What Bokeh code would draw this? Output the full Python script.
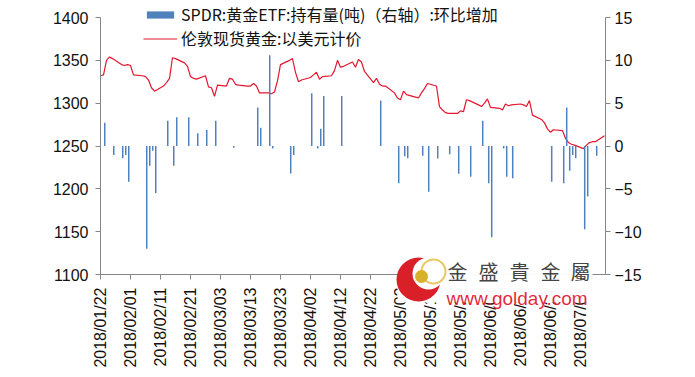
import numpy as np
import pandas as pd
from math import pi
from bokeh.plotting import figure
from bokeh.models import (Range1d, LinearAxis, FixedTicker, DatetimeTickFormatter,
                          Legend, LegendItem, GridBox)
from bokeh.core.properties import value
from bokeh.embed import file_html
from bokeh.resources import INLINE

# ---------------- data ----------------
price_dates = [
    "2018-01-22", "2018-01-23", "2018-01-24", "2018-01-25", "2018-01-26",
    "2018-01-29", "2018-01-30", "2018-01-31", "2018-02-01", "2018-02-02",
    "2018-02-05", "2018-02-06", "2018-02-07", "2018-02-08", "2018-02-09",
    "2018-02-12", "2018-02-13", "2018-02-14", "2018-02-15", "2018-02-16",
    "2018-02-19", "2018-02-20", "2018-02-21", "2018-02-22", "2018-02-23",
    "2018-02-26", "2018-02-27", "2018-02-28", "2018-03-01", "2018-03-02",
    "2018-03-05", "2018-03-06", "2018-03-07", "2018-03-08", "2018-03-09",
    "2018-03-12", "2018-03-13", "2018-03-14", "2018-03-15", "2018-03-16",
    "2018-03-19", "2018-03-20", "2018-03-21", "2018-03-22", "2018-03-23",
    "2018-03-26", "2018-03-27", "2018-03-28", "2018-03-29", "2018-03-30",
    "2018-04-02", "2018-04-03", "2018-04-04", "2018-04-05", "2018-04-06",
    "2018-04-09", "2018-04-10", "2018-04-11", "2018-04-12", "2018-04-13",
    "2018-04-16", "2018-04-17", "2018-04-18", "2018-04-19", "2018-04-20",
    "2018-04-23", "2018-04-24", "2018-04-25", "2018-04-26", "2018-04-27",
    "2018-04-30", "2018-05-01", "2018-05-02", "2018-05-03", "2018-05-04",
    "2018-05-07", "2018-05-08", "2018-05-09", "2018-05-10", "2018-05-11",
    "2018-05-14", "2018-05-15", "2018-05-16", "2018-05-17", "2018-05-18",
    "2018-05-21", "2018-05-22", "2018-05-23", "2018-05-24", "2018-05-25",
    "2018-05-28", "2018-05-29", "2018-05-30", "2018-05-31", "2018-06-01",
    "2018-06-04", "2018-06-05", "2018-06-06", "2018-06-07", "2018-06-08",
    "2018-06-11", "2018-06-12", "2018-06-13", "2018-06-14", "2018-06-15",
    "2018-06-18", "2018-06-19", "2018-06-20", "2018-06-21", "2018-06-22",
    "2018-06-25", "2018-06-26", "2018-06-27", "2018-06-28", "2018-06-29",
    "2018-07-02", "2018-07-03", "2018-07-04", "2018-07-05", "2018-07-06",
    "2018-07-09",
]
gold_price = [
    1332, 1333, 1350, 1354, 1352,
    1345, 1344, 1345, 1344, 1333,
    1332, 1331, 1327, 1318, 1314,
    1320, 1324, 1329, 1353, 1352,
    1347, 1343, 1331, 1329, 1328,
    1332, 1319, 1318, 1308, 1321,
    1320, 1329, 1328, 1322, 1321,
    1320, 1320, 1323, 1320, 1312,
    1312, 1311, 1313, 1326, 1345,
    1350, 1352, 1336, 1325, 1327,
    1330, 1333, 1336, 1328, 1331,
    1332, 1338, 1350, 1342, 1343,
    1348, 1342, 1351, 1348, 1337,
    1324, 1329, 1322, 1320, 1320,
    1312, 1306, 1304, 1314, 1310,
    1307, 1306, 1312, 1317, 1323,
    1320, 1296, 1292, 1289, 1288,
    1288, 1291, 1290, 1304, 1303,
    1298, 1296, 1300, 1305, 1295,
    1294, 1292, 1299, 1297, 1298,
    1299, 1298, 1296, 1303, 1286,
    1281, 1277, 1270, 1266, 1269,
    1268, 1259, 1254, 1252, 1251,
    1247, 1251, 1254, 1255, 1255,
    1262,
]

etf_dates = [
    "2018-01-23", "2018-01-26", "2018-01-29", "2018-01-30", "2018-01-31",
    "2018-02-06", "2018-02-07", "2018-02-08", "2018-02-09", "2018-02-13",
    "2018-02-15", "2018-02-16", "2018-02-20", "2018-02-23", "2018-02-26",
    "2018-03-01", "2018-03-07", "2018-03-15", "2018-03-16", "2018-03-19",
    "2018-03-20", "2018-03-26", "2018-03-27", "2018-04-02", "2018-04-04",
    "2018-04-05", "2018-04-06", "2018-04-12", "2018-04-25", "2018-05-01",
    "2018-05-03", "2018-05-04", "2018-05-09", "2018-05-11", "2018-05-14",
    "2018-05-18", "2018-05-21", "2018-05-25", "2018-05-29", "2018-05-31",
    "2018-06-01", "2018-06-05", "2018-06-06", "2018-06-08", "2018-06-21",
    "2018-06-25", "2018-06-26", "2018-06-27", "2018-06-28", "2018-06-29",
    "2018-07-02", "2018-07-03", "2018-07-06", "2018-07-09",
]
etf_change = [
    2.7, -1.05, -1.44, -1.05, -4.16,
    -12.0, -2.3, -0.55, -5.5, 2.95,
    -2.3, 3.35, 3.35, 1.48, 1.87,
    2.95, -0.2, 4.5, 2.14, 10.6,
    -0.3, -3.2, -1.05, 6.15, -0.3,
    2.0, 5.84, 5.84, 5.3, -4.36,
    -1.2, -1.44, -1.15, -5.33, -1.47,
    -0.97, -3.25, -3.6, 2.94, -4.36,
    -10.65, -0.3, -3.58, -3.77, -4.16,
    -4.36, 4.48, -2.88, -1.05, -1.44,
    -9.72, -5.9, -1.13, -1.44,
]

left_ticks = [1100, 1150, 1200, 1250, 1300, 1350, 1400]
right_ticks = [-15, -10, -5, 0, 5, 10, 15]
x_tick_dates = ["2018-01-22", "2018-02-01", "2018-02-11", "2018-02-21", "2018-03-03",
                "2018-03-13", "2018-03-23", "2018-04-02", "2018-04-12", "2018-04-22",
                "2018-05-02", "2018-05-12", "2018-05-22", "2018-06-01", "2018-06-11",
                "2018-06-21", "2018-07-01"]

legend_bar = "SPDR:黄金ETF:持有量(吨)（右轴）:环比增加"
legend_line = "伦敦现货黄金:以美元计价"
watermark_chars = ["金", "盛", "貴", "金", "屬"]
watermark_url = "www.golday.com"

# ---------------- helpers ----------------
DAY = 86400000.0
W, H = 695, 377
LEFT_B = 100          # left border of the plot frame (px)
TOP_PAD = 17          # px between canvas top and the 1400 / 15 level
PLOT_PX = 257         # px from 1100 to 1400


def ms(d):
    return pd.Timestamp(d).value / 1e6


px = pd.to_datetime(price_dates)
bx = pd.to_datetime(etf_dates) + pd.Timedelta(hours=10)

lo, hi = left_ticks[0], left_ticks[-1]
rlo, rhi = right_ticks[0], right_ticks[-1]
y_top = hi + (hi - lo) * TOP_PAD / PLOT_PX
r_top = rhi + (rhi - rlo) * TOP_PAD / PLOT_PX

p = figure(width=W, height=H, output_backend="svg", toolbar_location=None,
           x_axis_type="datetime",
           x_range=Range1d(ms("2018-01-22"), ms("2018-07-09") + 0.35 * DAY),
           y_range=Range1d(lo, y_top),
           min_border_left=LEFT_B, min_border_right=90,
           min_border_top=0, min_border_bottom=103)
p.extra_y_ranges = {"right": Range1d(rlo, r_top)}

p.xgrid.grid_line_color = None
p.ygrid.grid_line_color = None
p.outline_line_color = None
p.background_fill_color = "white"
p.border_fill_color = "white"

line_r = p.line(px, gold_price, line_color="#E3172F", line_width=1.2)
bar_r = p.vbar(x=bx, top=etf_change, bottom=0, width=0.5 * DAY,
               y_range_name="right", fill_color="#4F81BD", line_color=None)

axis_color = "#868686"
font = "Liberation Sans"

xa = p.xaxis[0]
xa.ticker = FixedTicker(ticks=[ms(d) for d in x_tick_dates])
xa.formatter = DatetimeTickFormatter(days="%Y/%m/%d", months="%Y/%m/%d",
                                     years="%Y/%m/%d", hours="%Y/%m/%d")
xa.major_label_orientation = pi / 2

ya = p.yaxis[0]
ya.ticker = FixedTicker(ticks=left_ticks)
ya.bounds = (lo, hi)

ra = LinearAxis(y_range_name="right", ticker=FixedTicker(ticks=right_ticks),
                bounds=(rlo, rhi))
p.add_layout(ra, "right")

for ax in (xa, ya, ra):
    ax.axis_line_color = axis_color
    ax.major_tick_line_color = axis_color
    ax.major_tick_out = 5
    ax.major_tick_in = 0
    ax.minor_tick_line_color = None
    ax.major_label_text_font = font
    ax.major_label_text_font_size = "16px"
    ax.major_label_text_color = "#111111"
xa.major_label_standoff = 8
ya.major_label_standoff = 7
ra.major_label_standoff = 4

legend = Legend(items=[LegendItem(label=legend_bar, renderers=[bar_r]),
                       LegendItem(label=legend_line, renderers=[line_r])],
                location=(43, 224), orientation="vertical",
                background_fill_alpha=0, border_line_color=None,
                label_text_font="Noto Sans CJK SC", label_text_font_size="16px",
                label_text_color="#111111",
                glyph_width=34, glyph_height=9, label_height=20,
                label_standoff=4, spacing=0, padding=0, margin=0)
p.add_layout(legend)

# ---------------- watermark overlay (screen-pixel canvas) ----------------
# the grid aligns this overlay's frame with the chart's frame (left edge at LEFT_B,
# top edge at 0), so its data units equal page pixels
ov = figure(frame_width=W - LEFT_B, frame_height=H, output_backend="svg",
            toolbar_location=None,
            x_range=Range1d(LEFT_B, W), y_range=Range1d(H, 0),
            x_axis_location=None, y_axis_location=None,
            min_border=0, title=None)
ov.xgrid.grid_line_color = None
ov.ygrid.grid_line_color = None
ov.outline_line_color = None
ov.background_fill_alpha = 0
ov.border_fill_alpha = 0

# white backing of the watermark image
ov.quad(left=[397], right=[592], top=[259], bottom=[302],
        fill_color="white", line_color=None, fill_alpha=0.97)

# logo: red crescent with a gold ball
ov.circle(x=[418], y=[279], radius=22, radius_units="screen",
          fill_color="#D7141E", line_color=None, fill_alpha=0.95)
ov.circle(x=[428], y=[273], radius=16, radius_units="screen",
          fill_color="white", line_color=None)
ov.circle(x=[433], y=[271], radius=12, radius_units="screen",
          fill_color=None, line_color="#E4B93A", line_width=2, line_alpha=0.8)
ov.circle(x=[421], y=[276], radius=6.5, radius_units="screen",
          fill_color="#D9B02A", line_color=None)

ov.text(x=[457, 488, 519, 550, 580], y=[271] * 5, text=watermark_chars,
        text_font=value("Noto Sans CJK TC"),
        text_font_size="20px", text_color="#2b2b2b", text_alpha=0.9,
        text_baseline="middle", text_align="center")
ov.text(x=[446], y=[298], text=[watermark_url], text_font=value("Liberation Sans"),
        text_font_size="19px", text_color="#E3172F", text_alpha=0.95,
        text_baseline="alphabetic", text_align="left")

layout = GridBox(children=[(p, 0, 0), (ov, 0, 0)], width=W, height=H)

open("out.html", "w").write(file_html(layout, INLINE))
